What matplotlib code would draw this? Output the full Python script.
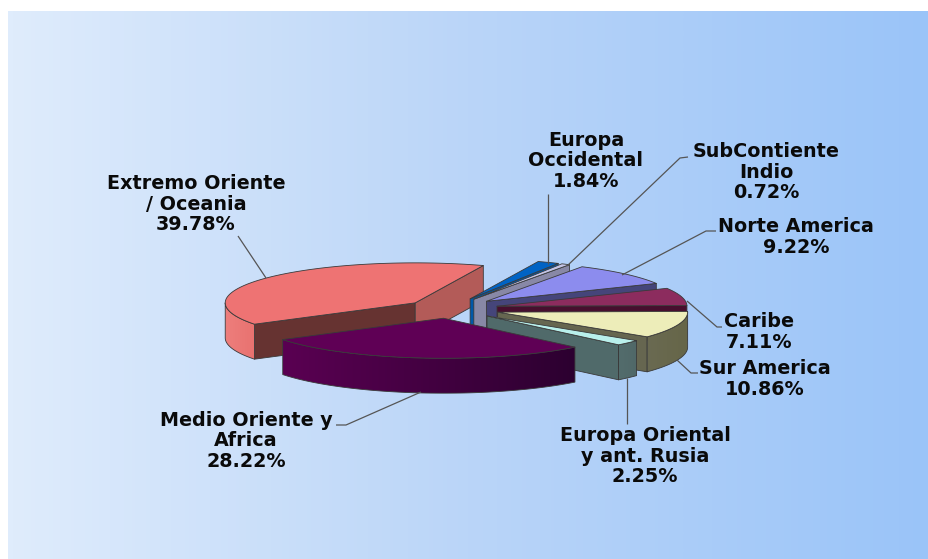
import numpy as np
import matplotlib
matplotlib.use("Agg")
import matplotlib.pyplot as plt
from matplotlib.colors import LinearSegmentedColormap
from matplotlib.patches import Polygon

# Share of each region, clockwise from the back of the pie
regions = ["Europa\nOccidental", "SubContiente\nIndio", "Norte America", "Caribe",
           "Sur America", "Europa Oriental\ny ant. Rusia", "Medio Oriente y\nAfrica",
           "Extremo Oriente\n/ Oceania"]
shares = [1.84, 0.72, 9.22, 7.11, 10.86, 2.25, 28.22, 39.78]

top_colors = ["#0063C4", "#C4C4E6", "#8C8CEE", "#8C2C5E", "#EDEDB9", "#B9F0EC", "#5F0055", "#EE7373"]
cut_start_colors = [None, None, None, None, None, None, None, "#663331"]
cut_end_colors = ["#0058A8", "#8888A6", "#45457A", "#470F2E", "#666650", "#506A6A", None, "#B35B58"]
side_left_colors = [None, None, None, None, "#6A6A52", "#536C6C", "#5A0052", "#EE7E7C"]
side_right_colors = [None, None, None, None, "#666648", "#506868", "#2C0030", "#E87270"]
explode = [0.27, 0.27, 0.27, 0.26, 0.27, 0.27, 0.24, 0.23]

# Pie layout in pixels
center_x, center_y = 449.0, 308.7
radius_x, radius_y = 190.0, 40.0
depth = 35.0
start_angle = 21.0
edge = dict(edgecolor="#3a3a3a", linewidth=0.6, joinstyle="round")

W, H = 929, 559
fig = plt.figure(figsize=(W / 100, H / 100), dpi=100, facecolor="white")
ax = fig.add_axes([0, 0, 1, 1])
ax.axis("off")

# Panel background, a horizontal blue gradient
panel = LinearSegmentedColormap.from_list("panel", ["#DFECFC", "#BAD5F8", "#9AC4F8"])
ax.imshow(np.linspace(0, 1, 256)[None, :], cmap=panel, extent=[8, W, H, 11],
          aspect="auto", zorder=0, interpolation="bilinear")


def rim(apex, theta):
    """Screen position of the rim at angles measured clockwise from the back."""
    t = np.radians(theta)
    return apex[0] + radius_x * np.sin(t), apex[1] - radius_y * np.cos(t)


fractions = np.array(shares) / sum(shares)
bounds = start_angle + 360 * np.concatenate([[0], np.cumsum(fractions)])

# Painter's order: back slices first, the large front slice last
draw_order = [7, 0, 1, 2, 3, 4, 5, 6]
z = 2
for i in draw_order:
    a0, a1 = bounds[i], bounds[i + 1]
    mid = np.radians((a0 + a1) / 2)
    apex = (center_x + explode[i] * radius_x * np.sin(mid),
            center_y - explode[i] * radius_y * np.cos(mid))
    rx, ry = rim(apex, np.linspace(a0, a1, 120))

    # Flat cut faces that look toward the viewer
    for angle, col in ((a0, cut_start_colors[i]), (a1, cut_end_colors[i])):
        if col is None:
            continue
        ex, ey = rim(apex, angle)
        ax.add_patch(Polygon([apex, (ex, ey), (ex, ey + depth), (apex[0], apex[1] + depth)],
                             closed=True, facecolor=col, zorder=z, **edge))
    z += 1

    # Curved outer wall with a left-to-right shade along the visible front arc
    if side_left_colors[i] is not None:
        arc = np.linspace(max(a0, 90), min(a1, 270), 80)
        wx, wy = rim(apex, arc)
        outline = np.vstack([np.column_stack([wx, wy]),
                             np.column_stack([wx[::-1], wy[::-1] + depth])])
        wall = Polygon(outline, closed=True, facecolor="none", zorder=z + 0.5, **edge)
        ax.add_patch(wall)
        shade = LinearSegmentedColormap.from_list(
            f"wall{i}", [side_left_colors[i], side_right_colors[i]])
        im = ax.imshow(np.linspace(0, 1, 256)[None, :], cmap=shade, aspect="auto", zorder=z,
                       extent=[wx.min(), wx.max(), wy.max() + depth, wy.min()],
                       interpolation="bilinear")
        im.set_clip_path(wall)
    z += 1

    # Top surface
    ax.add_patch(Polygon(np.vstack([[apex], np.column_stack([rx, ry])]), closed=True,
                         facecolor=top_colors[i], zorder=z, **edge))
    z += 1

ax.set_xlim(0, W)
ax.set_ylim(H, 0)

# Leader lines and value labels
leaders = [
    [(548, 194), (548, 264)],
    [(567, 266), (680, 158), (688, 157)],
    [(622, 275), (706, 231), (716, 231)],
    [(687, 301), (717, 327), (722, 327)],
    [(677, 360), (691, 373), (698, 373)],
    [(627, 378), (627, 424)],
    [(421, 392), (346, 425), (336, 425)],
    [(266, 278), (238, 236)],
]
label_centers = [(586, 161), (766, 172), (796, 237), (759, 332),
                 (765, 379), (645, 456), (246, 441), (196, 204)]

for name, share, line, (lx, ly) in zip(regions, shares, leaders, label_centers):
    xs, ys = zip(*line)
    ax.plot(xs, ys, color="#555555", lw=0.9, zorder=60, solid_capstyle="butt")
    ax.text(lx, ly, f"{name}\n{share:.2f}%", ha="center", va="center", ma="center",
            family="DejaVu Sans", weight="bold", fontsize=13.8, color="#0a0a0a",
            linespacing=1.12, zorder=61)

fig.savefig("out.png", dpi=100, facecolor="white")
